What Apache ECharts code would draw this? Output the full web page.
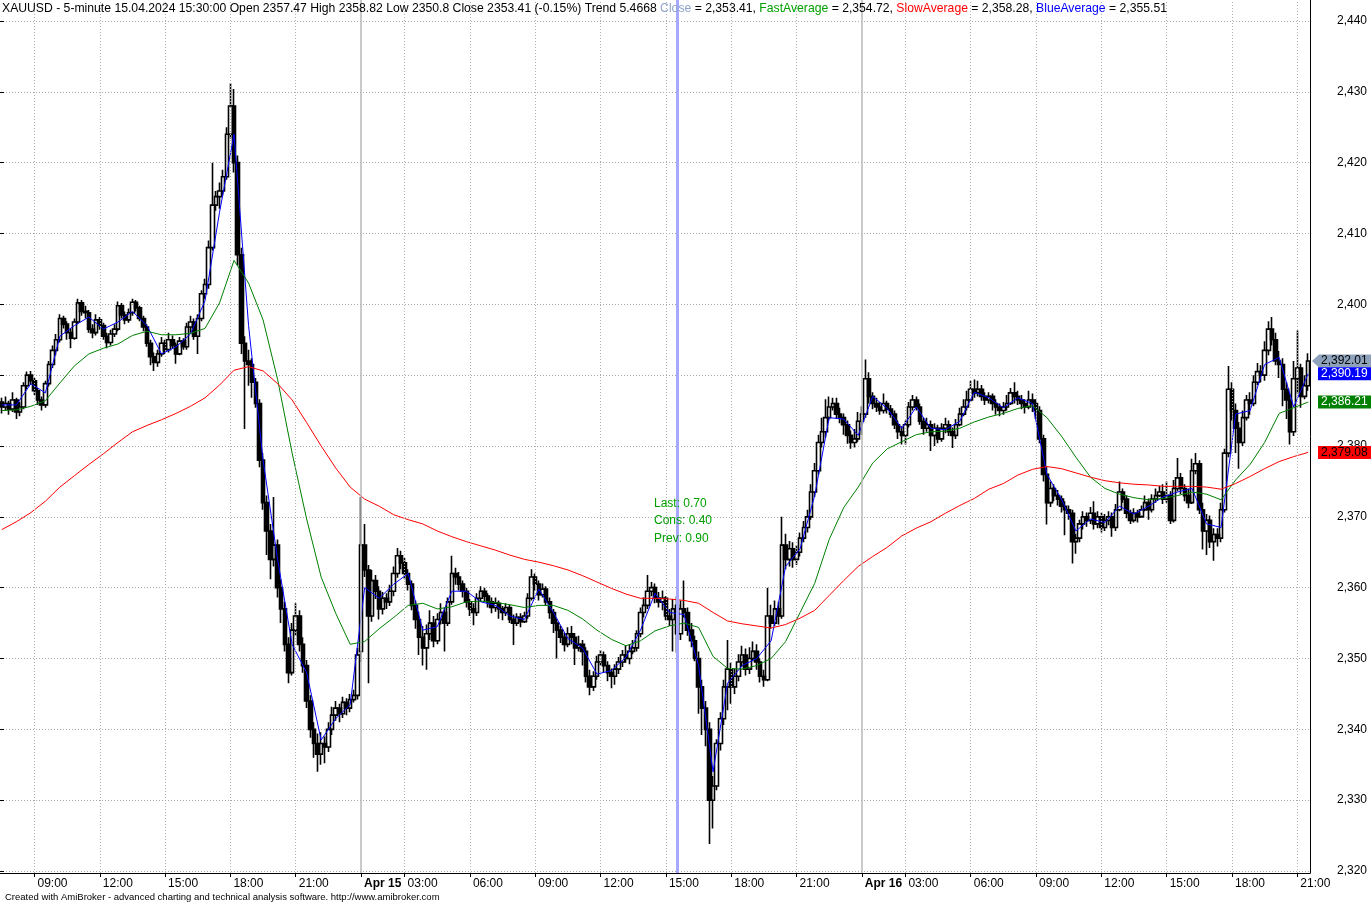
<!DOCTYPE html>
<html><head><meta charset="utf-8">
<script src="https://cdn.jsdelivr.net/npm/echarts@6/dist/echarts.min.js"></script>
<style>html,body{margin:0;padding:0;background:#fff}#chart{width:1371px;height:903px}</style>
</head><body><div id="chart"></div>
<script>
// ---- Sessions (10-minute bars) ----
const sessions = [
  {label: 'Apr 12', start: '07:30', bars: 99},
  {label: 'Apr 15', start: '01:00', bars: 138},
  {label: 'Apr 16', start: '01:00', bars: 124}
];
// ---- OHLC values ----
const opens = [
2386.2,2385.5,2386.0,2385.2,2386.5,2384.8,2385.5,2388.5,2390.0,2389.2,
2387.8,2386.5,2385.8,2388.8,2391.5,2393.5,2395.0,2398.0,2397.2,2396.0,
2395.2,2397.5,2400.2,2399.0,2398.8,2396.5,2396.0,2397.8,2397.0,2395.5,
2394.6,2395.8,2396.5,2399.8,2398.5,2397.8,2398.8,2400.3,2399.5,2398.0,
2396.8,2394.5,2392.6,2391.8,2393.0,2394.5,2393.6,2395.0,2394.2,2393.0,
2394.8,2394.0,2396.8,2397.5,2395.5,2398.0,2401.5,2402.8,2408.0,2414.0,
2415.2,2416.0,2418.0,2424.0,2428.0,2420.0,2407.0,2394.5,2392.0,2391.5,
2389.0,2386.0,2378.0,2372.0,2368.0,2364.0,2366.0,2360.0,2357.0,2352.0,
2348.0,2354.0,2356.0,2352.0,2349.0,2344.0,2340.0,2338.0,2336.5,2338.0,
2337.5,2340.0,2342.0,2343.0,2342.2,2343.8,2343.0,2344.2,2344.8,
2351.0,2366.0,2362.5,2356.0,2361.0,2359.5,2357.0,2358.5,2358.0,2359.5,
2362.0,2364.5,2363.5,2362.0,2360.5,2357.5,2355.5,2353.0,2351.5,2353.5,
2355.0,2352.5,2355.5,2356.5,2355.0,2358.0,2362.0,2361.5,2360.5,2359.5,
2358.0,2357.0,2356.5,2358.5,2359.5,2358.8,2358.0,2357.2,2357.8,2357.0,
2356.5,2357.2,2355.5,2355.0,2355.8,2355.2,2356.0,2358.5,2361.5,2360.5,
2359.0,2359.8,2358.0,2356.5,2355.0,2354.0,2353.0,2352.0,2353.5,2353.0,
2351.5,2352.0,2351.0,2347.5,2346.0,2347.5,2349.5,2350.5,2349.0,2348.0,
2347.5,2348.5,2349.5,2350.5,2350.0,2351.0,2351.5,2353.5,2356.5,2357.5,
2359.5,2360.0,2358.5,2358.0,2358.5,2356.0,2355.5,2357.5,2353.5,2357.0,
2356.5,2354.0,2352.5,2350.0,2346.0,2343.0,2340.0,2330.0,2332.0,2338.0,
2341.5,2346.0,2348.5,2346.0,2347.5,2349.5,2350.5,2348.5,2350.0,2351.0,
2349.5,2347.5,2347.0,2356.0,2355.0,2357.0,2356.0,2366.0,2364.0,2365.5,
2364.0,2365.0,2367.0,2368.5,2370.0,2373.5,2376.5,2380.5,2382.0,2384.0,
2385.5,2386.0,2384.5,2384.0,2383.0,2381.5,2380.5,2381.0,2383.5,2384.5,
2389.5,2387.0,2386.0,2385.5,2385.0,2386.0,2385.2,2384.5,2383.0,2382.0,
2381.5,2383.0,2385.5,2386.5,2385.5,2383.5,2382.5,2383.0,2381.5,2382.5,
2381.0,2382.5,2383.0,2382.0,2381.5,2383.0,2384.5,2385.5,2386.5,2388.0,
2387.5,2388.0,2387.0,2386.5,2387.0,2386.0,2385.5,2385.0,2385.5,2386.0,
2387.5,2387.0,2386.5,2386.0,2385.5,2386.5,2386.0,2385.0,2381.0,2376.0,
2372.0,2374.0,2373.0,2372.5,2371.5,2371.0,2370.5,2366.5,2367.0,2369.0,
2370.0,2369.5,2370.5,2369.0,2370.0,2368.5,2369.5,2370.0,2368.5,2371.0,
2373.5,2372.5,2370.5,2369.5,2370.5,2370.0,2371.0,2372.0,2371.0,2372.5,
2373.0,2373.5,2372.5,2373.0,2369.5,2374.0,2375.5,2374.0,2373.0,2372.0,
2376.5,2377.5,2371.0,2368.0,2369.5,2366.5,2367.5,2367.0,2371.0,2379.0,
2388.0,2385.0,2382.5,2380.5,2384.0,2386.5,2386.0,2389.0,2390.5,2390.0,
2393.5,2396.5,2395.0,2392.0,2391.5,2388.0,2386.5,2382.0,2389.5,2391.0,2387.0,2388.5
];
const highs = [
2386.8,2387.0,2386.4,2387.6,2386.8,2386.2,2389.0,2390.5,2390.6,2389.6,
2388.2,2387.0,2389.2,2392.0,2394.2,2395.8,2398.6,2398.4,2397.6,2396.6,
2398.0,2400.8,2400.6,2399.8,2399.2,2397.2,2398.6,2398.2,2397.4,2396.0,
2396.4,2397.2,2400.4,2400.2,2399.0,2399.4,2400.8,2400.6,2399.8,2398.4,
2397.2,2395.0,2393.2,2393.6,2395.4,2395.0,2396.0,2395.6,2394.6,2395.4,
2395.2,2397.4,2398.4,2398.0,2398.6,2402.0,2403.6,2409.0,2420.0,2416.0,
2417.2,2419.0,2425.0,2431.2,2430.4,2421.0,2408.0,2395.5,2393.6,2392.4,
2389.6,2386.6,2379.0,2373.0,2369.0,2372.8,2366.8,2361.2,2358.0,2353.0,
2355.0,2357.8,2356.8,2353.0,2349.8,2344.8,2341.0,2339.4,2339.6,2339.0,
2341.0,2343.2,2344.0,2343.6,2344.6,2344.4,2345.0,2345.6,2351.5,
2372.8,2369.0,2363.2,2362.5,2361.8,2360.2,2359.4,2359.2,2360.4,2363.0,
2365.6,2365.2,2364.2,2362.6,2361.0,2358.2,2356.6,2354.6,2354.8,2356.8,
2356.0,2356.4,2357.8,2357.2,2358.6,2364.5,2362.8,2362.2,2361.0,2360.0,
2358.4,2357.8,2359.2,2360.2,2360.0,2359.2,2358.6,2358.6,2358.2,2357.4,
2357.8,2357.6,2356.2,2356.4,2356.4,2356.6,2359.2,2362.6,2362.0,2361.0,
2360.6,2360.2,2358.6,2357.0,2355.6,2354.6,2353.6,2354.4,2354.6,2353.6,
2353.2,2352.6,2351.6,2348.4,2348.2,2350.4,2351.2,2351.0,2349.6,2348.6,
2349.2,2350.2,2351.2,2351.8,2352.0,2352.6,2354.0,2357.2,2358.6,2361.8,
2360.8,2360.6,2359.4,2359.6,2358.8,2357.0,2358.4,2358.8,2358.2,2361.0,
2357.2,2355.0,2353.2,2351.0,2347.0,2344.0,2341.0,2333.4,2338.6,2342.4,
2347.0,2352.6,2349.4,2348.6,2350.6,2351.8,2351.4,2351.6,2352.4,2352.0,
2350.0,2348.4,2360.0,2357.6,2358.2,2358.0,2370.0,2367.6,2366.6,2366.4,
2366.0,2367.8,2369.4,2371.0,2374.6,2377.6,2381.6,2384.0,2386.6,2387.0,
2386.8,2386.8,2385.4,2384.6,2383.6,2382.2,2382.4,2384.8,2385.6,2392.2,
2390.4,2387.6,2386.8,2386.2,2387.4,2386.4,2385.8,2385.0,2383.6,2382.8,
2383.6,2386.2,2387.2,2387.0,2386.0,2384.0,2384.0,2383.6,2383.2,2383.0,
2383.2,2384.0,2383.6,2382.6,2383.8,2385.4,2386.6,2387.8,2389.2,2389.4,
2389.2,2388.6,2387.6,2387.6,2387.4,2386.6,2386.0,2386.2,2387.2,2388.2,
2389.0,2387.8,2387.2,2386.6,2387.8,2387.4,2386.6,2385.6,2381.6,2377.0,
2375.0,2374.6,2373.8,2373.0,2372.2,2371.6,2371.0,2367.6,2369.6,2370.8,
2370.6,2371.4,2372.2,2370.8,2370.6,2370.4,2370.8,2370.6,2371.8,2375.0,
2374.0,2373.0,2371.0,2371.2,2371.0,2371.6,2373.0,2372.6,2373.2,2374.0,
2374.4,2374.6,2375.0,2373.6,2375.2,2378.3,2376.2,2374.6,2374.0,2378.2,
2379.0,2378.0,2372.0,2370.4,2370.2,2368.4,2368.4,2372.0,2379.6,2391.3,
2389.0,2386.0,2383.4,2385.0,2387.2,2387.6,2390.0,2391.7,2391.4,2394.8,
2397.6,2398.2,2396.0,2393.4,2392.4,2389.0,2387.4,2392.0,2396.3,2391.6,2390.0,2393.1
];
const lows = [
2384.6,2385.0,2384.4,2384.8,2383.8,2384.2,2385.2,2388.0,2388.6,2387.2,
2385.8,2385.0,2385.4,2388.4,2391.0,2392.8,2394.6,2396.6,2395.0,2393.8,
2395.0,2397.2,2398.4,2398.0,2396.0,2395.2,2395.6,2396.4,2395.0,2393.8,
2394.2,2395.4,2396.2,2398.0,2397.2,2397.4,2398.4,2399.0,2397.6,2396.2,
2394.0,2391.4,2390.6,2391.2,2392.6,2393.0,2393.2,2393.8,2391.6,2392.8,
2393.6,2393.6,2396.0,2395.0,2393.0,2397.6,2400.8,2402.2,2407.6,2413.2,
2413.5,2415.4,2417.6,2423.4,2418.6,2405.5,2393.0,2382.4,2388.5,2386.8,
2385.4,2377.0,2371.0,2364.6,2361.2,2363.0,2358.6,2355.0,2351.0,2346.5,
2347.6,2353.2,2351.0,2348.0,2343.0,2338.8,2336.0,2334.0,2335.0,2335.2,
2336.8,2339.2,2341.2,2341.0,2341.6,2342.0,2342.4,2343.8,2344.2,
2349.5,2361.5,2346.5,2355.2,2358.4,2355.5,2356.2,2357.0,2357.4,2358.8,
2361.4,2362.6,2361.2,2359.6,2356.8,2354.2,2350.5,2349.0,2348.4,2352.6,
2351.6,2352.0,2354.8,2351.0,2354.6,2357.6,2360.4,2359.6,2358.6,2357.2,
2356.0,2354.7,2356.0,2358.0,2358.0,2357.2,2356.4,2356.6,2355.6,2355.4,
2356.0,2355.0,2351.9,2354.6,2354.4,2355.0,2355.6,2358.2,2359.6,2358.2,
2358.6,2357.4,2355.6,2353.6,2350.0,2352.2,2351.0,2351.6,2352.0,2349.1,
2351.0,2349.0,2346.6,2344.8,2345.4,2347.0,2349.0,2348.0,2346.8,2345.8,
2346.3,2347.8,2348.8,2349.4,2349.2,2350.6,2351.0,2353.0,2355.8,2357.0,
2358.8,2357.8,2357.2,2356.8,2355.4,2354.6,2351.0,2350.8,2352.6,2355.8,
2353.2,2351.6,2349.6,2342.2,2339.2,2337.6,2323.8,2326.0,2331.4,2337.0,
2340.6,2342.7,2343.6,2345.0,2346.8,2348.8,2347.6,2347.8,2349.6,2348.4,
2346.6,2346.0,2346.8,2354.2,2354.6,2354.8,2355.6,2362.6,2363.0,2362.8,
2363.2,2364.4,2366.4,2367.8,2369.6,2372.8,2376.0,2379.8,2381.2,2383.6,
2385.0,2383.8,2383.2,2381.6,2380.3,2379.6,2379.8,2380.6,2381.6,2384.0,
2386.0,2385.2,2384.8,2384.4,2384.6,2384.6,2384.0,2382.4,2381.0,2380.2,
2380.2,2382.6,2385.0,2385.0,2383.0,2381.6,2382.0,2379.3,2380.0,2380.4,
2380.6,2381.8,2381.4,2379.7,2381.0,2382.8,2384.2,2385.0,2386.2,2386.8,
2387.0,2386.4,2385.8,2386.0,2385.0,2384.4,2384.2,2384.4,2385.0,2385.8,
2386.0,2385.8,2385.2,2384.6,2385.2,2384.8,2383.8,2380.4,2375.0,2368.9,
2371.4,2372.2,2371.6,2370.6,2367.4,2369.6,2363.4,2364.8,2366.4,2368.2,
2368.6,2369.0,2368.2,2368.4,2367.8,2368.0,2368.8,2367.2,2368.0,2370.8,
2372.0,2369.8,2369.0,2369.2,2369.2,2370.2,2370.8,2369.6,2370.6,2372.0,
2372.8,2371.8,2372.0,2369.0,2369.2,2373.6,2373.2,2372.2,2371.2,2371.8,
2376.0,2370.4,2365.4,2364.6,2365.6,2363.8,2365.8,2366.4,2370.6,2378.4,
2383.6,2379.0,2376.8,2380.0,2383.6,2384.4,2385.6,2388.6,2389.0,2389.2,
2392.8,2394.2,2391.4,2389.6,2385.6,2383.8,2380.2,2381.4,2387.4,2385.4,2386.6,2387.8
];
const closes = [
2385.5,2386.0,2385.2,2386.5,2384.8,2385.5,2388.5,2390.0,2389.2,2387.8,
2386.5,2385.8,2388.8,2391.5,2393.5,2395.0,2398.0,2397.2,2396.0,2395.2,
2397.5,2400.2,2399.0,2398.8,2396.5,2396.0,2397.8,2397.0,2395.5,2394.6,
2395.8,2396.5,2399.8,2398.5,2397.8,2398.8,2400.3,2399.5,2398.0,2396.8,
2394.5,2392.6,2391.8,2393.0,2394.5,2393.6,2395.0,2394.2,2393.0,2394.8,
2394.0,2396.8,2397.5,2395.5,2398.0,2401.5,2402.8,2408.0,2414.0,2415.2,
2416.0,2418.0,2424.0,2428.0,2420.0,2407.0,2394.5,2392.0,2391.5,2389.0,
2386.0,2378.0,2372.0,2368.0,2364.0,2366.0,2360.0,2357.0,2352.0,2348.0,
2354.0,2356.0,2352.0,2349.0,2344.0,2340.0,2338.0,2336.5,2338.0,2337.5,
2340.0,2342.0,2343.0,2342.2,2343.8,2343.0,2344.2,2344.8,2350.5,
2366.0,2362.5,2356.0,2361.0,2359.5,2357.0,2358.5,2358.0,2359.5,2362.0,
2364.5,2363.5,2362.0,2360.5,2357.5,2355.5,2353.0,2351.5,2353.5,2355.0,
2352.5,2355.5,2356.5,2355.0,2358.0,2362.0,2361.5,2360.5,2359.5,2358.0,
2357.0,2356.5,2358.5,2359.5,2358.8,2358.0,2357.2,2357.8,2357.0,2356.5,
2357.2,2355.5,2355.0,2355.8,2355.2,2356.0,2358.5,2361.5,2360.5,2359.0,
2359.8,2358.0,2356.5,2355.0,2354.0,2353.0,2352.0,2353.5,2353.0,2351.5,
2352.0,2351.0,2347.5,2346.0,2347.5,2349.5,2350.5,2349.0,2348.0,2347.5,
2348.5,2349.5,2350.5,2350.0,2351.0,2351.5,2353.5,2356.5,2357.5,2359.5,
2360.0,2358.5,2358.0,2358.5,2356.0,2355.5,2357.0,2353.5,2357.0,2356.5,
2354.0,2352.5,2350.0,2346.0,2343.0,2340.0,2330.0,2332.0,2338.0,2341.5,
2346.0,2348.5,2346.0,2347.5,2349.5,2350.5,2348.5,2350.0,2351.0,2349.5,
2347.5,2347.0,2356.0,2355.0,2357.0,2356.0,2366.0,2364.0,2365.5,2364.0,
2365.0,2367.0,2368.5,2370.0,2373.5,2376.5,2380.5,2382.0,2384.0,2385.5,
2386.0,2384.5,2384.0,2383.0,2381.5,2380.5,2381.0,2383.5,2384.5,2389.5,
2387.0,2386.0,2385.5,2385.0,2386.0,2385.2,2384.5,2383.0,2382.0,2381.5,
2383.0,2385.5,2386.5,2385.5,2383.5,2382.5,2383.0,2381.5,2382.5,2381.0,
2382.5,2383.0,2382.0,2381.5,2383.0,2384.5,2385.5,2386.5,2388.0,2387.5,
2388.0,2387.0,2386.5,2387.0,2386.0,2385.5,2385.0,2385.5,2386.0,2387.5,
2387.0,2386.5,2386.0,2385.5,2386.5,2386.0,2385.0,2381.0,2376.0,2372.0,
2374.0,2373.0,2372.5,2371.5,2371.0,2370.5,2366.5,2367.0,2369.0,2370.0,
2369.5,2370.5,2369.0,2370.0,2368.5,2369.5,2370.0,2368.5,2371.0,2373.5,
2372.5,2370.5,2369.5,2370.5,2370.0,2371.0,2372.0,2371.0,2372.5,2373.0,
2373.5,2372.5,2373.0,2369.5,2374.0,2375.5,2374.0,2373.0,2372.0,2376.5,
2377.5,2371.0,2368.0,2369.5,2366.5,2367.5,2367.0,2371.0,2379.0,2388.0,
2385.0,2382.5,2380.5,2384.0,2386.5,2386.0,2389.0,2390.5,2390.0,2393.5,
2396.5,2395.0,2392.0,2391.5,2388.0,2386.5,2382.0,2389.5,2391.0,2387.0,2388.5,2392.0
];
// ---- Averages, read every 4th bar ----
const avgStep = 4;
const blueAverage = [
2385.8,2385.8,2388.8,2387.5,2395.5,2397.0,2398.2,2396.5,2397.5,2399.0,
2397.0,2393.0,2394.0,2395.8,2400.5,2413.0,2424.0,2397.0,2378.0,2364.0,
2352.0,2348.0,2338.5,2341.5,2343.5,2360.0,2358.5,2360.5,2362.0,2354.0,
2354.5,2359.5,2359.5,2358.0,2357.5,2356.0,2355.5,2359.8,2356.5,2352.8,
2351.5,2347.8,2348.3,2350.2,2354.0,2359.2,2356.5,2356.2,2349.0,2334.0,
2346.5,2349.0,2350.0,2352.5,2363.0,2365.5,2373.0,2384.0,2383.8,2381.5,
2387.0,2385.3,2382.5,2385.5,2382.5,2382.3,2383.5,2387.6,2386.8,2385.4,
2386.8,2386.0,2376.0,2372.5,2368.0,2369.7,2369.2,2371.5,2370.4,2371.5,
2372.8,2373.5,2374.0,2369.0,2368.5,2384.5,2385.0,2391.5,2392.5,2385.5,
2390.2
];
const fastAverage = [
2385.0,2385.1,2385.6,2386.4,2388.9,2391.3,2393.0,2393.8,2394.4,2395.6,
2396.2,2395.7,2395.7,2395.9,2396.6,2400.2,2406.2,2403.0,2397.8,2389.4,
2379.0,2369.7,2361.5,2356.4,2352.0,2352.4,2354.2,2355.8,2357.5,2357.8,
2357.0,2357.3,2358.0,2358.1,2357.9,2357.6,2357.2,2357.5,2357.5,2356.8,
2355.6,2354.0,2352.7,2351.8,2352.5,2353.9,2354.6,2355.0,2354.4,2350.3,
2348.6,2348.5,2349.0,2350.0,2352.4,2356.5,2360.6,2366.8,2371.3,2374.2,
2377.6,2379.6,2380.6,2381.6,2382.0,2382.1,2382.5,2383.4,2384.1,2384.6,
2385.3,2385.7,2384.0,2381.4,2378.4,2375.6,2374.0,2373.2,2372.7,2372.4,
2372.6,2373.0,2373.5,2373.2,2372.4,2375.2,2377.4,2380.5,2384.6,2385.4,
2386.2
];
const slowAverage = [
2368.2,2369.3,2370.6,2372.2,2374.2,2375.8,2377.4,2378.9,2380.5,2382.0,
2382.9,2383.7,2384.6,2385.6,2386.8,2388.6,2390.7,2391.2,2390.6,2388.8,
2386.5,2383.3,2380.0,2376.9,2374.2,2372.5,2371.5,2370.3,2369.6,2369.0,
2368.0,2367.2,2366.5,2365.9,2365.3,2364.6,2364.0,2363.6,2363.1,2362.5,
2361.7,2360.8,2359.9,2359.1,2358.5,2358.5,2358.4,2358.2,2357.8,2356.5,
2355.3,2354.9,2354.6,2354.3,2354.8,2355.7,2356.8,2358.9,2361.0,2363.0,
2364.4,2365.7,2367.3,2368.4,2369.3,2370.5,2371.6,2372.6,2373.9,2374.7,
2375.9,2376.7,2377.1,2376.8,2376.2,2375.6,2375.1,2374.8,2374.6,2374.5,
2374.3,2374.3,2374.3,2374.2,2373.9,2374.7,2375.7,2376.8,2377.8,2378.5,
2379.1
];
// ---- Last-value tags ----
const tagValues = [2392.01, 2390.19, 2386.21, 2379.08];
const tagColors = ['#8ea2bb', '#0000ff', '#008000', '#ff0000'];
const tagText = ['#000', '#fff', '#fff', '#000'];
const cursorIndex = 186; // 15.04.2024 15:30
const yTicks = {min: 2320, max: 2440, step: 10};
const annoLines = ['Last: 0.70', 'Cons: 0.40', 'Prev: 0.90'];

// ---- categories ----
const categories = [];
const dayStart = [];
sessions.forEach((s, si) => {
  let [h, m] = s.start.split(':').map(Number);
  for (let k = 0; k < s.bars; k++) {
    categories.push(s.label + ' ' + String(h).padStart(2, '0') + ':' + String(m).padStart(2, '0'));
    dayStart.push(k === 0 && si > 0);
    m += 10; if (m >= 60) { m -= 60; h += 1; }
  }
});
const n = categories.length;
[opens, highs, lows, closes].forEach((a, j) => { if (a.length !== n) throw new Error('length mismatch ' + j + ': ' + a.length + ' vs ' + n); });
[blueAverage, fastAverage, slowAverage].forEach((a, j) => { if ((a.length - 1) * avgStep !== n - 1) throw new Error('avg length ' + j + ': ' + a.length); });

function isMajor(i) {
  if (dayStart[i]) return true;
  const t = categories[i].slice(-5);
  return t.endsWith(':00') && (+t.slice(0, 2)) % 3 === 0;
}
const FONT = 'Liberation Sans, Arial, sans-serif';

const vLines = [];
categories.forEach((c, i) => {
  if (!isMajor(i)) return;
  vLines.push({xAxis: c, lineStyle: dayStart[i]
    ? {color: '#b8b8b8', width: 1.5, type: 'solid'}
    : {color: '#b0b0b0', width: 1, type: [1, 2]}});
});
vLines.push({xAxis: categories[cursorIndex], lineStyle: {color: '#a8a8ff', width: 3, type: 'solid'}});

const pairs = arr => arr.map((v, k) => [k * avgStep, v]);
const candleData = closes.map((c, i) => [opens[i], c, lows[i], highs[i]]);

const chart = echarts.init(document.getElementById('chart'), null, {renderer: 'canvas'});
chart.setOption({
  animation: false,
  backgroundColor: '#fff',
  textStyle: {fontFamily: FONT},
  title: {
    left: 2, top: 3, padding: 0,
    text: '{k|XAUUSD - 5-minute 15.04.2024 15:30:00 Open 2357.47 High 2358.82 Low 2350.8 Close 2353.41 (-0.15%) Trend 5.4668 }{c|Close}{k| = 2,353.41, }{g|FastAverage}{k| = 2,354.72, }{r|SlowAverage}{k| = 2,358.28, }{b|BlueAverage}{k| = 2,355.51}',
    textStyle: {
      fontSize: 12.2, fontWeight: 'normal', fontFamily: FONT,
      rich: {
        k: {color: '#000', fontSize: 12.2, fontFamily: FONT},
        c: {color: '#8fa3cc', fontSize: 12.2, fontFamily: FONT},
        g: {color: '#00a000', fontSize: 12.2, fontFamily: FONT},
        r: {color: '#ff0000', fontSize: 12.2, fontFamily: FONT},
        b: {color: '#0000ff', fontSize: 12.2, fontFamily: FONT}
      }
    }
  },
  grid: [
    {left: 0, right: 61, top: 0, bottom: 30, containLabel: false},
    {left: 0, right: 61, top: 21, bottom: 32, containLabel: false}
  ],
  xAxis: [
    {
      type: 'category', gridIndex: 0, data: categories, boundaryGap: true,
      axisLine: {show: true, lineStyle: {color: '#000', width: 1}},
      axisTick: {show: true, alignWithLabel: true, interval: i => isMajor(i), length: 4, lineStyle: {color: '#000'}},
      axisLabel: {
        show: true, interval: i => isMajor(i), align: 'left', margin: 5, padding: [0, 0, 0, 3],
        color: '#000', fontSize: 12, fontFamily: FONT,
        formatter: (v, i) => dayStart[i] ? '{d|' + v.slice(0, 6) + '}' : v.slice(-5),
        rich: {d: {fontWeight: 'bold', fontSize: 12, color: '#000', fontFamily: FONT}}
      },
      splitLine: {show: false}
    },
    {type: 'value', gridIndex: 1, show: false, min: 0, max: 1}
  ],
  yAxis: [
    {
      type: 'value', gridIndex: 0, position: 'right', min: 2319.72, max: 2442.96,
      axisLine: {show: true, lineStyle: {color: '#000', width: 1}},
      axisTick: {show: false}, axisLabel: {show: false}, splitLine: {show: false}
    },
    {
      type: 'value', gridIndex: 1, position: 'right', min: yTicks.min, max: yTicks.max, interval: yTicks.step,
      axisLine: {show: false},
      axisTick: {show: true, length: 4, lineStyle: {color: '#000'}},
      axisLabel: {color: '#000', fontSize: 12, fontFamily: FONT, margin: 57, align: 'right',
        formatter: v => v.toLocaleString('en-US')},
      splitLine: {show: true, lineStyle: {color: '#a8a8a8', width: 1, type: [1, 2]}}
    }
  ],
  series: [
    {
      name: 'BlueAverage', type: 'line', xAxisIndex: 0, yAxisIndex: 0,
      data: pairs(blueAverage), symbol: 'none', lineStyle: {color: '#0000ff', width: 1},
      silent: true,
      markLine: {silent: true, symbol: ['none', 'none'], label: {show: false}, animation: false, data: vLines}
    },
    {
      name: 'FastAverage', type: 'line', xAxisIndex: 0, yAxisIndex: 0,
      data: pairs(fastAverage), symbol: 'none', lineStyle: {color: '#008000', width: 1}, silent: true
    },
    {
      name: 'SlowAverage', type: 'line', xAxisIndex: 0, yAxisIndex: 0,
      data: pairs(slowAverage), symbol: 'none', lineStyle: {color: '#ff0000', width: 1}, silent: true
    },
    {
      name: 'XAUUSD', type: 'candlestick', xAxisIndex: 0, yAxisIndex: 0,
      data: candleData, barWidth: 4,
      itemStyle: {color: 'rgba(255,255,255,0)', color0: '#000', borderColor: '#000', borderColor0: '#000', borderWidth: 1.6},
      silent: true
    }
  ]
});

// tags and annotations positioned through the axis scale
const g = [];
tagValues.forEach((v, k) => {
  const y = chart.convertToPixel({yAxisIndex: 0}, v);
  const txt = v.toLocaleString('en-US', {minimumFractionDigits: 2, maximumFractionDigits: 2});
  if (k === 0) {
    g.push({type: 'polygon', shape: {points: [[1312, y], [1319, y - 6.5], [1371, y - 6.5], [1371, y + 6.5], [1319, y + 6.5]]},
      style: {fill: tagColors[k]}, z: 100});
  } else {
    g.push({type: 'rect', shape: {x: 1318, y: y - 6.5, width: 53, height: 13}, style: {fill: tagColors[k]}, z: 100});
  }
  g.push({type: 'text', x: 1321, y: y, style: {text: txt, fill: tagText[k], font: '12px ' + FONT, textVerticalAlign: 'middle', verticalAlign: 'middle'}, z: 101});
});
annoLines.forEach((t, k) => {
  g.push({type: 'text', x: 654, y: 503.5 + k * 17.5, style: {text: t, fill: '#00a000', font: '12px ' + FONT, verticalAlign: 'middle', textVerticalAlign: 'middle'}, z: 50});
});
g.push({type: 'text', x: 5, y: 897.5, style: {text: 'Created with AmiBroker - advanced charting and technical analysis software. http://www.amibroker.com', fill: '#000', font: '9.5px ' + FONT, verticalAlign: 'middle', textVerticalAlign: 'middle'}, z: 50});
chart.setOption({graphic: g});
</script>
</body></html>
